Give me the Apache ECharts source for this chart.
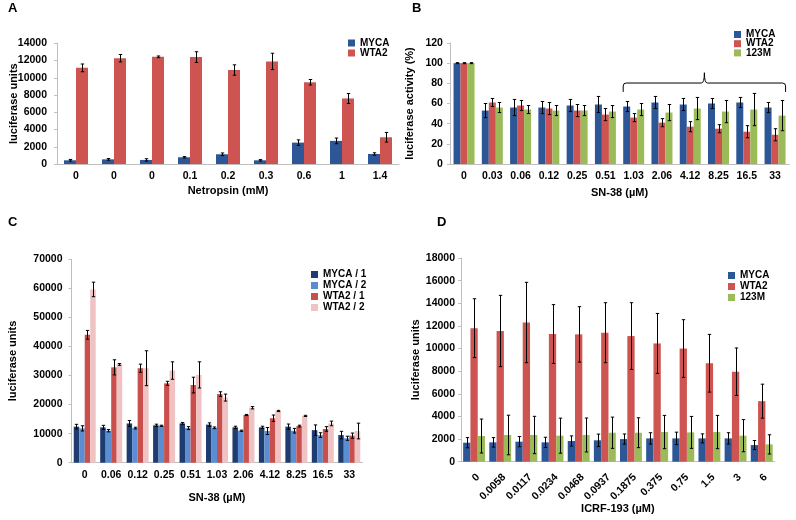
<!DOCTYPE html>
<html><head><meta charset="utf-8">
<script src="https://cdn.jsdelivr.net/npm/echarts@6/dist/echarts.min.js"></script>
<style>html,body{margin:0;padding:0;background:#fff}#c{width:796px;height:520px}</style>
</head><body><div id="c"></div>
<script>
// ---- Panel A ----
const aCats = ['0','0','0','0.1','0.2','0.3','0.6','1','1.4'];
const aMyca = [430, 540, 470, 780, 1130, 430, 2480, 2680, 1160];
const aMycaErr = [100, 100, 140, 80, 150, 80, 320, 330, 140];
const aWta2 = [11150, 12270, 12430, 12400, 10900, 11900, 9480, 7600, 3100];
const aWta2Err = [450, 430, 100, 620, 600, 950, 320, 580, 560];
// ---- Panel B ----
const bCats = ['0','0.03','0.06','0.12','0.25','0.51','1.03','2.06','4.12','8.25','16.5','33'];
const bMyca = [100, 53, 56, 56, 58, 59, 57, 61, 59, 60, 61, 56];
const bMycaErr = [0.5, 7, 8, 6, 6, 8, 5, 6, 6, 5, 5, 5];
const bWta2 = [100, 61, 58, 55, 53, 49, 46, 41, 37, 35, 32, 29];
const bWta2Err = [0.5, 4, 5, 6, 6, 6, 4, 4, 5, 4, 6, 6];
const b123m = [100, 56, 54, 53, 53, 52, 54, 51, 55, 52, 54, 48];
const b123mErr = [0.5, 5, 4, 5, 5, 6, 6, 8, 11, 11, 16, 15];
const bBraceRange = ['1.03', '33'];
// ---- Panel C ----
const cCats = ['0','0.06','0.12','0.25','0.51','1.03','2.06','4.12','8.25','16.5','33'];
const cMyca1 = [12400, 12150, 13500, 12850, 13500, 13100, 12150, 12150, 12400, 11200, 9500];
const cMyca1Err = [800, 700, 1000, 400, 300, 600, 400, 400, 900, 1800, 1300];
const cMyca2 = [11800, 11000, 11900, 12700, 11900, 12000, 11000, 10900, 11000, 9500, 8400];
const cMyca2Err = [900, 400, 300, 200, 500, 300, 200, 1200, 800, 800, 700];
const cWta21 = [44000, 32800, 32500, 27300, 26700, 23600, 16400, 15300, 12600, 11600, 9300];
const cWta21Err = [1500, 2600, 1400, 700, 2700, 800, 200, 1100, 300, 800, 900];
const cWta22 = [59600, 33800, 32500, 31700, 30200, 22400, 18900, 17800, 16100, 13500, 10900];
const cWta22Err = [2500, 300, 6000, 3000, 4500, 1200, 400, 200, 200, 800, 2700];
// ---- Panel D ----
const dCats = ['0','0.0058','0.0117','0.0234','0.0468','0.0937','0.1875','0.375','0.75','1.5','3','6'];
const dMyca = [1680, 1710, 1770, 1710, 1830, 1890, 2000, 2060, 2060, 2060, 2060, 1470];
const dMycaErr = [450, 420, 450, 450, 450, 550, 450, 500, 550, 400, 500, 400];
const dWta2 = [11800, 11550, 12300, 11280, 11250, 11400, 11100, 10450, 10000, 8700, 7950, 5350];
const dWta2Err = [2600, 3150, 3550, 2600, 2450, 2650, 2950, 2650, 2550, 2550, 2100, 1500];
const d123m = [2270, 2360, 2360, 2300, 2360, 2560, 2560, 2620, 2590, 2620, 2300, 1530];
const d123mErr = [1500, 1750, 1650, 1550, 1500, 1380, 1320, 1470, 1410, 1470, 1420, 850];

const FONT = 'Liberation Sans, Arial, sans-serif';
const AX = '#BFBFBF';
const C_BLUE = '#2D5696', C_RED = '#CD5451', C_GREEN = '#9BBB59';
const FS = 10.5;

const chart = echarts.init(document.getElementById('c'), null, {renderer: 'canvas'});

function xAx(gi, cats, name, gap, extra) {
  return Object.assign({
    type: 'category', gridIndex: gi, data: cats, name: name, nameLocation: 'middle', nameGap: gap,
    nameMoveOverlap: false,
    nameTextStyle: {fontFamily: FONT, fontWeight: 'bold', fontSize: 11, color: '#000'},
    axisLine: {lineStyle: {color: AX}}, axisTick: {length: 4, lineStyle: {color: AX}},
    axisLabel: {fontFamily: FONT, fontWeight: 'bold', fontSize: FS, color: '#000', margin: 7, interval: 0},
    splitLine: {show: false}
  }, extra || {});
}
function yAx(gi, max, interval, name, gap, margin) {
  return {
    type: 'value', gridIndex: gi, min: 0, max: max, interval: interval, name: name, nameLocation: 'middle', nameGap: gap,
    nameMoveOverlap: false,
    nameTextStyle: {fontFamily: FONT, fontWeight: 'bold', fontSize: 11, color: '#000'},
    axisLine: {show: true, lineStyle: {color: AX}}, axisTick: {show: true, length: 3, lineStyle: {color: AX}},
    axisLabel: {fontFamily: FONT, fontWeight: 'bold', fontSize: FS, color: '#000', margin: margin,
      formatter: function (v) { return String(v); }},
    splitLine: {show: false}
  };
}

const series = [];
function addGroup(gi, list, barW) {
  const n = list.length;
  list.forEach((s, i) => {
    series.push({
      type: 'bar', name: s.name, xAxisIndex: gi, yAxisIndex: gi, data: s.data, barWidth: barW, barGap: '0%',
      itemStyle: {color: s.color}, emphasis: {disabled: true}, animation: false
    });
  });
  list.forEach((s, i) => {
    const off = (i - (n - 1) / 2) * barW;
    series.push({
      type: 'custom', xAxisIndex: gi, yAxisIndex: gi, silent: true, animation: false, z: 5,
      data: s.data.map((v, k) => [k, v, s.err[k]]),
      encode: {x: 0, y: 1},
      renderItem: function (params, api) {
        const k = api.value(0), v = api.value(1), e = api.value(2);
        const top = api.coord([k, v + e]);
        const bot = api.coord([k, Math.max(0, v - e)]);
        const x = Math.round(top[0] + off) + 0.5;
        const cap = 1.7;
        const st = {stroke: '#000', lineWidth: 1};
        return {type: 'group', children: [
          {type: 'line', shape: {x1: x, y1: top[1], x2: x, y2: bot[1]}, style: st},
          {type: 'line', shape: {x1: x - cap, y1: top[1], x2: x + cap, y2: top[1]}, style: st},
          {type: 'line', shape: {x1: x - cap, y1: bot[1], x2: x + cap, y2: bot[1]}, style: st}
        ]};
      }
    });
  });
}

addGroup(0, [
  {name: 'MYCA', data: aMyca, err: aMycaErr, color: C_BLUE},
  {name: 'WTA2', data: aWta2, err: aWta2Err, color: C_RED}
], 12);
addGroup(1, [
  {name: 'MYCA', data: bMyca, err: bMycaErr, color: C_BLUE},
  {name: 'WTA2', data: bWta2, err: bWta2Err, color: C_RED},
  {name: '123M', data: b123m, err: b123mErr, color: C_GREEN}
], 7);
addGroup(2, [
  {name: 'MYCA / 1', data: cMyca1, err: cMyca1Err, color: '#1F3C70'},
  {name: 'MYCA / 2', data: cMyca2, err: cMyca2Err, color: '#5B8DD2'},
  {name: 'WTA2 / 1', data: cWta21, err: cWta21Err, color: '#C94F4C'},
  {name: 'WTA2 / 2', data: cWta22, err: cWta22Err, color: '#EFC3C3'}
], 5.5);
addGroup(3, [
  {name: 'MYCA', data: dMyca, err: dMycaErr, color: C_BLUE},
  {name: 'WTA2', data: dWta2, err: dWta2Err, color: C_RED},
  {name: '123M', data: d123m, err: d123mErr, color: C_GREEN}
], 7.3);

// brace over panel B
series.push({
  type: 'custom', xAxisIndex: 1, yAxisIndex: 1, silent: true, animation: false, z: 6,
  data: [[bCats.indexOf(bBraceRange[0]), bCats.indexOf(bBraceRange[1])]],
  renderItem: function (params, api) {
    const i0 = api.value(0), i1 = api.value(1);
    const xa = api.coord([i0, 80])[0] - 10.5;
    const xb = api.coord([i1, 80])[0] + 10.5;
    const yH = api.coord([i0, 80.3])[1];
    const yE = api.coord([i0, 71.5])[1];
    const yT = api.coord([i0, 90.5])[1];
    const xm = xa + (xb - xa) * 0.5;
    const r = 3;
    const d = 'M' + xa + ' ' + yE + ' L' + xa + ' ' + (yH + r) + ' Q' + xa + ' ' + yH + ' ' + (xa + r) + ' ' + yH +
      ' L' + (xm - r) + ' ' + yH + ' Q' + xm + ' ' + yH + ' ' + xm + ' ' + yT +
      ' Q' + xm + ' ' + yH + ' ' + (xm + r) + ' ' + yH + ' L' + (xb - r) + ' ' + yH +
      ' Q' + xb + ' ' + yH + ' ' + xb + ' ' + (yH + r) + ' L' + xb + ' ' + yE;
    return {type: 'path', shape: {pathData: d}, style: {stroke: '#000', lineWidth: 1, fill: null}};
  }
});

function legend(names, left, top, gap, fs) {
  return {
    data: names.map(n => ({name: n})), orient: 'vertical', left: left, top: top, padding: 0, itemGap: gap,
    itemWidth: 7, itemHeight: 7, itemTextGap: 3, icon: 'rect', selectedMode: false,
    textStyle: {fontFamily: FONT, fontWeight: 'bold', fontSize: fs, color: '#000'}
  };
}

const option = {
  animation: false,
  backgroundColor: '#fff',
  title: [
    {text: 'A', left: 8, top: 2, textStyle: {fontFamily: FONT, fontWeight: 'bold', fontSize: 13, color: '#000'}, padding: 0},
    {text: 'B', left: 412, top: 2, textStyle: {fontFamily: FONT, fontWeight: 'bold', fontSize: 13, color: '#000'}, padding: 0},
    {text: 'C', left: 8, top: 216, textStyle: {fontFamily: FONT, fontWeight: 'bold', fontSize: 13, color: '#000'}, padding: 0},
    {text: 'D', left: 437, top: 216, textStyle: {fontFamily: FONT, fontWeight: 'bold', fontSize: 13, color: '#000'}, padding: 0}
  ],
  grid: [
    {left: 57, top: 43.3, width: 342, height: 120.7},
    {left: 449.9, top: 43, width: 339.3, height: 121},
    {left: 71.5, top: 259.2, width: 291, height: 203.5},
    {left: 461, top: 258, width: 313.8, height: 203.7}
  ],
  xAxis: [
    xAx(0, aCats, 'Netropsin (mM)', 21),
    xAx(1, bCats, 'SN-38 (µM)', 23),
    xAx(2, cCats, 'SN-38 (µM)', 30),
    xAx(3, dCats, 'ICRF-193 (µM)', 42, {axisLabel: {fontFamily: FONT, fontWeight: 'bold', fontSize: FS, color: '#000',
      margin: 10, interval: 0, rotate: 45, align: 'right', verticalAlign: 'top'}})
  ],
  yAxis: [
    yAx(0, 14000, 2000, 'luciferase units', 38, 10),
    yAx(1, 120, 20, 'luciferase activity (%)', 34, 7),
    yAx(2, 70000, 10000, 'luciferase units', 53, 9),
    yAx(3, 18000, 2000, 'luciferase units', 40, 6)
  ],
  legend: [
    legend(['MYCA', 'WTA2'], 348, 38, 0, 10),
    legend(['MYCA', 'WTA2', '123M'], 734, 29.5, -0.8, 10),
    legend(['MYCA / 1', 'MYCA / 2', 'WTA2 / 1', 'WTA2 / 2'], 311, 269.5, 1, 10),
    legend(['MYCA', 'WTA2', '123M'], 728, 270.5, 1, 10)
  ],
  series: series
};
chart.setOption(option);
</script>
</body></html>
